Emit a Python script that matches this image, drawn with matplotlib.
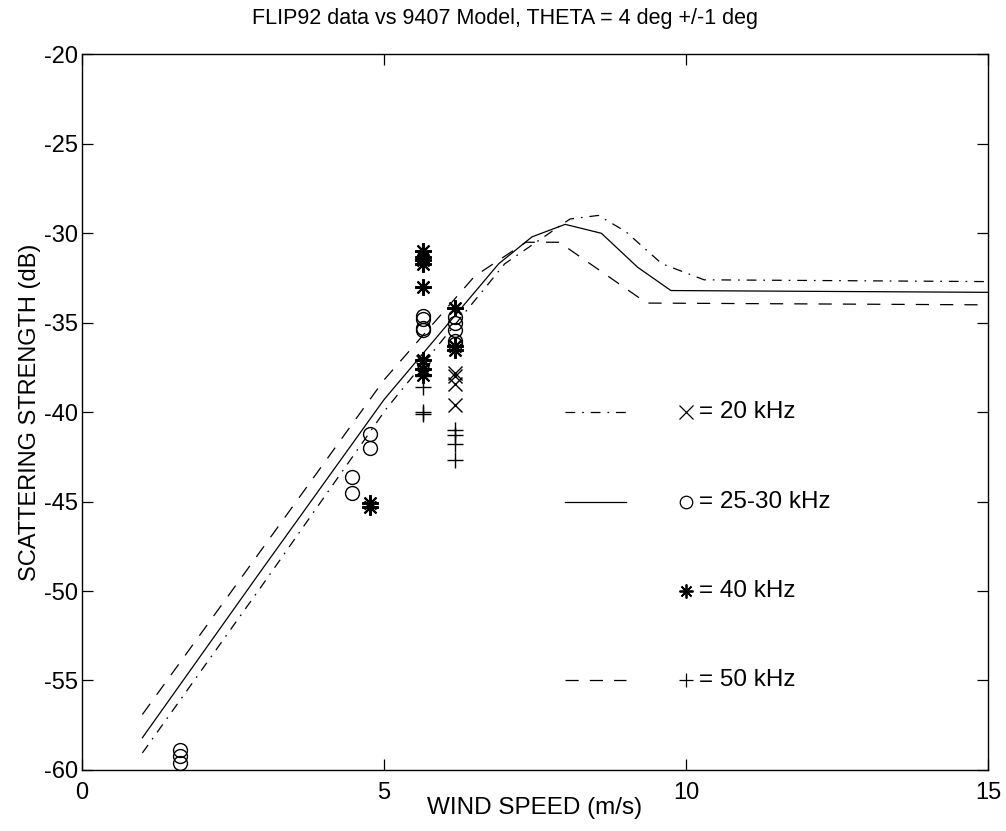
import numpy as np
import matplotlib
matplotlib.use("Agg")
import matplotlib.pyplot as plt

plt.rcParams['font.family'] = ['Liberation Sans', 'DejaVu Sans']
plt.rcParams['lines.scale_dashes'] = False
plt.rcParams['axes.unicode_minus'] = False

# Model curves (wind speed m/s, scattering strength dB)
ws_model = [1.0, 3.0, 5.0, 6.9, 7.45, 8.0, 8.6, 9.2, 9.75, 15.0]
ss_model = [-58.2, -48.7, -39.3, -31.7, -30.2, -29.5, -30.0, -31.9, -33.2, -33.3]

ws_low = [1.0, 2.5, 5.0, 6.5, 7.35, 7.9, 9.35, 15.0]
ss_low = [-56.9, -49.9, -38.2, -32.4, -30.5, -30.5, -33.9, -34.0]

ws_high = [1.0, 3.0, 5.04, 7.0, 8.08, 8.55, 9.0, 9.6, 10.3, 15.0]
ss_high = [-59.05, -49.6, -39.8, -31.7, -29.2, -29.0, -29.9, -31.7, -32.6, -32.7]

# FLIP92 data
ws_20 = [5.65, 5.65, 6.18, 6.18, 6.18, 6.18]
ss_20 = [-37.2, -37.6, -37.8, -38.0, -38.4, -39.6]

ws_25 = [1.62, 1.62, 1.62, 4.47, 4.47, 4.77, 4.77, 5.65, 5.65, 5.65, 5.65,
         6.18, 6.18, 6.18, 6.18, 6.18]
ss_25 = [-58.9, -59.2, -59.6, -43.6, -44.5, -41.2, -42.0, -34.6, -34.8, -35.3, -35.4,
         -34.7, -35.0, -35.4, -36.0, -36.2]

ws_40 = [4.77, 4.77, 5.65, 5.65, 5.65, 5.65, 5.65, 5.65, 5.65, 5.65,
         6.18, 6.18, 6.18]
ss_40 = [-45.1, -45.3, -31.0, -31.3, -31.5, -31.7, -33.0, -37.1, -37.6, -37.9,
         -34.2, -36.3, -36.5]

ws_50 = [5.65, 5.65, 5.65, 5.65, 6.18, 6.18, 6.18, 6.18]
ss_50 = [-38.0, -38.6, -40.0, -40.1, -41.0, -41.3, -41.8, -42.7]

# hand-drawn legend rows
leg_y = [-40, -45, -50, -55]
leg_text = ['= 20 kHz', '= 25-30 kHz', '= 40 kHz', '= 50 kHz']

dash_style = (0, (9.5, 8))
dashdot_style = (0, (7, 5, 1.2, 5))
star = (8, 2, 0)

fig = plt.figure(figsize=(10.06, 8.31), dpi=100)
ax = fig.add_axes([0.0815, 0.0735, 0.9006, 0.861])

lw = 0.9
ax.plot(ws_high, ss_high, color='k', lw=lw, linestyle=dashdot_style)
ax.plot(ws_model, ss_model, color='k', lw=lw, linestyle='-')
ax.plot(ws_low, ss_low, color='k', lw=lw, linestyle=dash_style)

mk = dict(color='k', linestyle='none', markeredgewidth=1.0, clip_on=False)
ax.plot(ws_20, ss_20, marker='x', markersize=10, **mk)
ax.plot(ws_25, ss_25, marker='o', markersize=10, markerfacecolor='none', **mk)
ax.plot(ws_40, ss_40, marker=star, markersize=12, markeredgewidth=1.5,
        color='k', linestyle='none', clip_on=False)
ax.plot(ws_50, ss_50, marker='+', markersize=11, **mk)

# legend drawn inside the axes
styles = [dashdot_style, '-', None, dash_style]
markers = ['x', 'o', star, '+']
for y, txt, ls, m in zip(leg_y, leg_text, styles, markers):
    if ls is not None:
        ax.plot([8.0, 9.0], [y, y], color='k', lw=lw, linestyle=ls)
    if m == 'o':
        ax.plot([10.0], [y], marker=m, markersize=9, markerfacecolor='none',
                color='k', markeredgewidth=0.9)
    elif m == star:
        ax.plot([10.0], [y], marker=m, markersize=10, color='k', markeredgewidth=1.3)
    else:
        ax.plot([10.0], [y], marker=m, markersize=10, color='k', markeredgewidth=0.9)
    ax.text(10.22, y, txt, fontsize=17.5, va='center', ha='left')

ax.set_xlim(0, 15)
ax.set_ylim(-60, -20)
ax.set_xticks([0, 5, 10, 15])
ax.set_yticks(np.arange(-60, -19, 5))
ax.tick_params(direction='in', top=True, right=True, length=8, width=0.9,
               labelsize=17)
ax.tick_params(axis='x', pad=9)
ax.tick_params(axis='y', pad=3)
for s in ax.spines.values():
    s.set_linewidth(1.0)

ax.set_xlabel('WIND SPEED (m/s)', fontsize=17.5, labelpad=-5)
ax.set_ylabel('SCATTERING STRENGTH (dB)', fontsize=17, labelpad=2)
fig.text(0.502, 0.978, 'FLIP92 data vs 9407 Model, THETA = 4 deg +/-1 deg',
         fontsize=15.5, ha='center', va='center')

fig.savefig('out.png', dpi=100)
